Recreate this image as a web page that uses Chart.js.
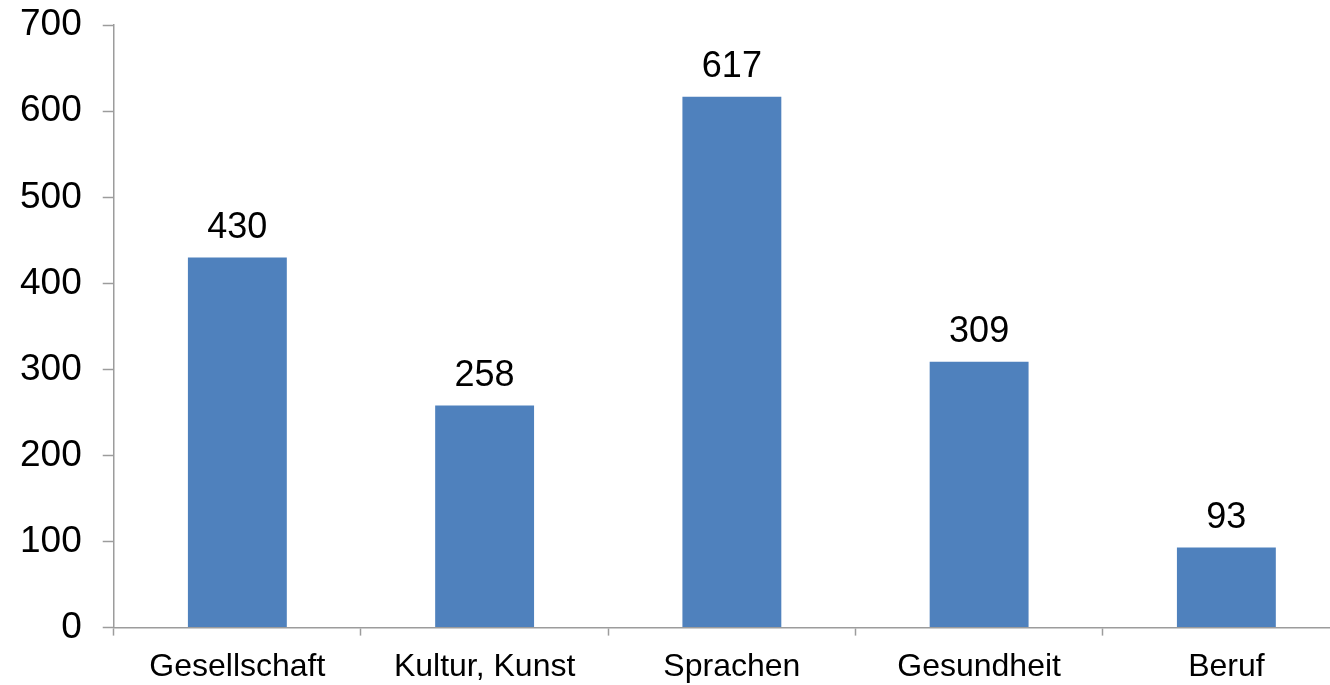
<!DOCTYPE html>
<html>
<head>
<meta charset="utf-8">
<script src="https://cdn.jsdelivr.net/npm/chart.js@4/dist/chart.umd.min.js"></script>
<style>
  html, body { margin: 0; padding: 0; background: #ffffff; overflow: hidden; }
  #frame { width: 1330px; height: 685px; position: relative; overflow: hidden; }
  #wrap { width: 1351px; height: 716px; position: absolute; left: -1px; top: -18px; }
</style>
</head>
<body>
<div id="frame"><div id="wrap"><canvas id="c"></canvas></div></div>
<script>
const categories = ["Gesellschaft", "Kultur, Kunst", "Sprachen", "Gesundheit", "Beruf"];
const values = [430, 258, 617, 309, 93];
const yTicks = [0, 100, 200, 300, 400, 500, 600, 700];

const FONT = "'Liberation Sans', Arial, sans-serif";
const AXIS_COLOR = "#9c9c9c";

const valueLabels = {
  id: "valueLabels",
  afterDatasetsDraw(chart) {
    const ctx = chart.ctx;
    const meta = chart.getDatasetMeta(0);
    ctx.save();
    ctx.fillStyle = "#000000";
    ctx.font = "36px " + FONT;
    ctx.textAlign = "center";
    ctx.textBaseline = "alphabetic";
    meta.data.forEach((bar, i) => {
      ctx.fillText(String(values[i]), bar.x, bar.y - 20);
    });
    ctx.restore();
  }
};

new Chart(document.getElementById("c"), {
  type: "bar",
  data: {
    labels: categories,
    datasets: [{
      data: values,
      backgroundColor: "#4f81bd",
      borderWidth: 0,
      barPercentage: 0.4,
      categoryPercentage: 1.0
    }]
  },
  options: {
    responsive: true,
    maintainAspectRatio: false,
    animation: false,
    events: [],
    layout: { padding: 0 },
    plugins: {
      legend: { display: false },
      tooltip: { enabled: false }
    },
    scales: {
      x: {
        grid: {
          display: true,
          drawOnChartArea: false,
          drawTicks: true,
          tickLength: 8,
          tickWidth: 1.5,
          tickColor: AXIS_COLOR,
          offset: true
        },
        border: { display: true, color: AXIS_COLOR, width: 1.5 },
        ticks: {
          color: "#000000",
          font: { family: FONT, size: 32 },
          padding: 12,
          maxRotation: 0,
          autoSkip: false
        }
      },
      y: {
        min: 0,
        max: 700,
        afterBuildTicks(scale) {
          scale.ticks = yTicks.map(v => ({ value: v }));
        },
        grid: {
          display: true,
          drawOnChartArea: false,
          drawTicks: true,
          tickLength: 11,
          tickWidth: 1.5,
          tickColor: AXIS_COLOR
        },
        border: { display: true, color: AXIS_COLOR, width: 1.5 },
        ticks: {
          color: "#000000",
          font: { family: FONT, size: 37 },
          padding: 21
        }
      }
    }
  },
  plugins: [valueLabels]
});
</script>
</body>
</html>
